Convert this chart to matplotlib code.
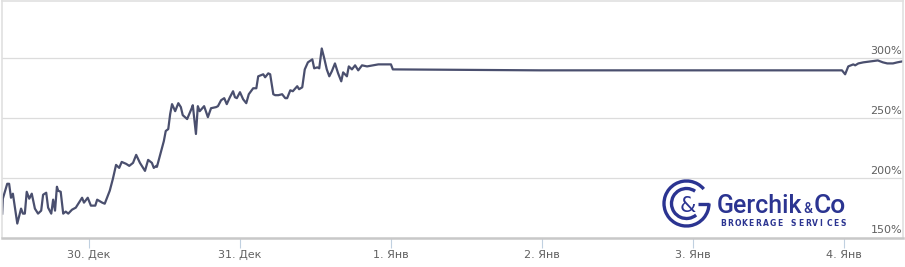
import matplotlib.pyplot as plt
from matplotlib.patches import Arc
import numpy as np

# часы от 30 дек 00:00 и доходность в %
hours = [-13.8, -13.7, -13.0, -12.7, -12.4, -12.1, -11.4, -10.8, -10.5, -10.2,
         -9.9, -9.5, -9.1, -8.6, -8.1, -7.6, -7.3, -6.8, -6.5, -6.0,
         -5.7, -5.4, -5.1, -4.9, -4.5, -4.1, -3.7, -3.3, -2.7, -2.1,
         -1.1, -0.8, -0.2, 0.3, 1.0, 1.3, 2.1, 2.5, 3.3, 3.8,
         4.3, 4.8, 5.2, 5.9, 6.4, 7.0, 7.5, 8.1, 8.9, 9.4,
         10.0, 10.3, 10.7, 10.8, 11.4, 11.9, 12.2, 12.6, 12.9, 13.2,
         13.7, 14.2, 14.6, 14.9, 15.6, 16.4, 16.5, 17.0, 17.3, 17.6,
         18.3, 18.9, 19.4, 20.2, 20.5, 21.0, 21.5, 21.9, 22.4, 22.9,
         23.2, 23.5, 24.0, 24.5, 25.0, 25.4, 26.1, 26.6, 26.9, 27.7,
         28.0, 28.5, 28.8, 29.3, 29.6, 30.1, 30.7, 31.2, 31.5, 32.0,
         32.4, 33.1, 33.4, 33.9, 34.3, 34.8, 35.5, 35.8, 36.3, 36.6,
         37.0, 37.4, 37.8, 38.2, 38.6, 39.1, 39.6, 40.1, 40.4, 41.0,
         41.3, 41.8, 42.3, 42.8, 43.4, 44.2, 45.2, 46.0, 46.7, 47.5,
         48.0, 48.3, 71.7, 119.7, 120.2, 120.7, 121.5, 121.8, 122.3, 123.1,
         124.2, 125.4, 126.2, 126.9, 127.8, 128.5, 129.3]
values = [170.0, 182.5, 195.0, 195.0, 183.3, 186.7, 161.7, 174.2, 170.0, 170.0,
          188.3, 182.5, 186.7, 174.2, 170.0, 172.5, 185.8, 187.5, 175.0, 170.0,
          181.7, 172.5, 192.5, 189.2, 188.3, 170.0, 171.7, 170.0, 173.3, 175.0,
          183.3, 179.2, 183.3, 176.7, 176.7, 181.7, 179.2, 178.3, 189.2, 199.2,
          210.8, 208.3, 213.3, 211.7, 210.0, 212.5, 219.2, 212.5, 205.8, 215.0,
          212.5, 208.3, 210.0, 209.2, 220.8, 230.8, 239.2, 240.8, 253.3, 261.7,
          255.8, 262.5, 259.2, 252.5, 249.2, 259.2, 260.8, 236.7, 260.0, 255.8,
          260.0, 250.8, 258.3, 259.2, 260.0, 265.0, 266.7, 261.7, 267.5, 272.5,
          267.5, 266.7, 271.7, 265.8, 262.5, 270.0, 275.0, 275.0, 285.0, 286.7,
          284.2, 287.5, 286.7, 270.0, 269.2, 269.2, 270.0, 266.7, 266.7, 273.3,
          272.5, 276.7, 274.2, 275.8, 290.8, 296.7, 299.2, 291.7, 292.5, 291.7,
          308.3, 300.0, 290.8, 285.0, 289.2, 295.8, 287.5, 280.8, 288.3, 285.0,
          293.3, 290.8, 294.2, 290.0, 294.2, 293.3, 294.2, 295.0, 295.0, 295.0,
          295.0, 290.8, 290.0, 290.0, 286.7, 293.3, 295.0, 294.2, 295.8, 296.7,
          297.5, 298.3, 296.7, 295.8, 295.8, 296.7, 297.5]

tick_hours = [0, 24, 48, 72, 96, 120]
tick_labels = ['30. Дек', '31. Дек', '1. Янв', '2. Янв', '3. Янв', '4. Янв']
y_ticks = [150, 200, 250, 300]

W, H = 905, 267
fig = plt.figure(figsize=(W / 100, H / 100), dpi=100)
ax = fig.add_axes([2 / W, 29.5 / H, 901 / W, 237 / H])

ax.plot(hours, values, color='#4a4f6e', lw=1.6, solid_joinstyle='round')
ax.set_xlim(-13.83, 129.4)
ax.set_ylim(150, 348.5)

# сетка и подписи справа
for v in y_ticks:
    if v > 150:
        ax.axhline(v, color='#dcdcdc', lw=0.9, zorder=0)
    ax.text(0.999, v + 1.8, '%d%%' % v, transform=ax.get_yaxis_transform(),
            ha='right', va='bottom', fontsize=8, color='#606060')

ax.set_yticks([])
ax.set_xticks(tick_hours)
ax.set_xticklabels(tick_labels, fontsize=8, color='#606060')
ax.tick_params(axis='x', length=7, width=0.8, color='#c0d0e0', pad=2)

for s in ['left', 'right', 'top']:
    ax.spines[s].set_color('#e0e0e0')
    ax.spines[s].set_linewidth(1.2)
ax.spines['bottom'].set_color('#c8c8c8')
ax.spines['bottom'].set_linewidth(1.8)

# логотип (координаты в пикселях от левого нижнего угла)
lc = '#2b3491'
lax = fig.add_axes([0, 0, 1, 1])
lax.set_xlim(0, W)
lax.set_ylim(0, H)
lax.axis('off')
lax.patch.set_alpha(0)
cx, cy = 686.5, 63.5
lax.add_patch(Arc((cx, cy), 45, 45, theta1=40, theta2=360, color=lc, lw=2.4))
lax.add_patch(Arc((cx, cy), 30, 30, theta1=55, theta2=310, color=lc, lw=2.4))
lax.plot([cx + 11, cx + 22.5], [cy, cy], color=lc, lw=2.4, solid_capstyle='butt')
lax.text(cx + 1.5, cy - 2, '&', ha='center', va='center', fontsize=15,
         color=lc, family='DejaVu Sans')

# слова логотипа ставим друг за другом по реальной ширине
fig.canvas.draw()
rend = fig.canvas.get_renderer()
x0 = 717
for word, size in [('Gerchik', 18), ('&', 10), ('Co', 19)]:
    t = lax.text(x0, 54, word, ha='left', va='baseline', fontsize=size,
                 color=lc, family='Roboto', fontweight='medium')
    bb = t.get_window_extent(renderer=rend)
    x0 = x0 + bb.width + 1
letters = 'BROKERAGE SERVICES'
step = (x0 - 720 - 6) / (len(letters) - 1)
for i, ch in enumerate(letters):
    lax.text(720 + i * step, 41, ch, ha='left', va='baseline', fontsize=5.5,
             color=lc, family='DejaVu Sans', fontweight='bold')

fig.savefig('out.png', dpi=100)
